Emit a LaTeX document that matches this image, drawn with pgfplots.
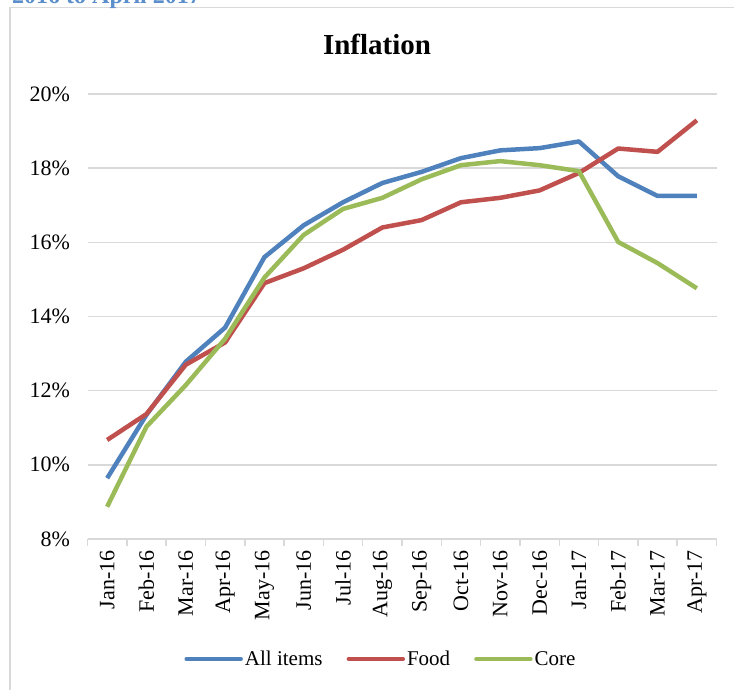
\documentclass[border=0pt]{standalone}
\usepackage{pgfplots}
\pgfplotsset{compat=1.18}
\usepackage{pgfplotstable}
\usepackage{fontspec}
\setmainfont{Liberation Serif}
\definecolor{cblue}{HTML}{4F81BD}
\definecolor{cred}{HTML}{C0504D}
\definecolor{cgreen}{HTML}{9BBB59}
\definecolor{cgrid}{HTML}{D9D9D9}
\definecolor{ctop}{HTML}{5B8FCB}
\pgfplotstableread{
x all food core
0 9.64 10.67 8.87
1 11.35 11.37 11.03
2 12.78 12.70 12.15
3 13.70 13.30 13.40
4 15.60 14.90 15.05
5 16.46 15.30 16.20
6 17.08 15.80 16.90
7 17.60 16.40 17.20
8 17.90 16.60 17.70
9 18.27 17.08 18.08
10 18.48 17.20 18.19
11 18.54 17.40 18.08
12 18.72 17.87 17.92
13 17.78 18.53 16.01
14 17.25 18.44 15.44
15 17.25 19.29 14.76
}\datatable
\begin{document}
\begin{tikzpicture}[x=1pt,y=1pt]
\path[use as bounding box] (0,0) rectangle (734,690);
\draw[cgrid, line width=1.5pt] (10,-20) rectangle (760,682.5);
\node[anchor=base west, inner sep=0pt, text=ctop, font=\fontsize{24}{28}\selectfont\bfseries] at (12,686) {2016 to April 2017};
\node[anchor=base, inner sep=0pt, font=\fontsize{29}{34}\selectfont\bfseries] at (377,635) {Inflation};
\begin{axis}[
  at={(87.5pt,151pt)}, anchor=south west,
  scale only axis, width=629pt, height=445pt,
  xmin=-0.5, xmax=15.5, ymin=8, ymax=20,
  axis x line*=bottom, axis y line*=left,
  y axis line style={draw=none},
  x axis line style={draw=cgrid, line width=1.5pt},
  xtick={0,...,15},
  xticklabels={Jan-16,Feb-16,Mar-16,Apr-16,May-16,Jun-16,Jul-16,Aug-16,Sep-16,Oct-16,Nov-16,Dec-16,Jan-17,Feb-17,Mar-17,Apr-17},
  minor xtick={-0.5,0.5,...,15.5},
  major tick length=0pt, minor tick length=7pt, tick align=outside,
  minor tick style={draw=cgrid, line width=1.5pt},
  ytick={8,10,...,20},
  yticklabel={\pgfmathprintnumber{\tick}\%},
  /pgf/number format/assume math mode=true,
  ymajorgrids=true,
  major grid style={draw=cgrid, line width=1.5pt},
  tick label style={font=\fontsize{22}{26}\selectfont},
  xticklabel style={rotate=90, anchor=east, xshift=-8pt},
  yticklabel style={xshift=-14pt},
  legend style={draw=none, at={(0.4666,-0.2697)}, anchor=center, legend columns=3,
    font=\fontsize{21}{25}\selectfont, /tikz/every even column/.append style={column sep=22pt}},
  legend image code/.code={\draw[#1, line width=4.5pt, line cap=round] (0pt,0pt) -- (54pt,0pt);},
  every axis plot/.append style={line width=4.5pt, line join=round, no markers},
  clip=false,
]
\addplot[cblue] table[x=x,y=all] {\datatable};
\addlegendentry{All items}
\addplot[cred] table[x=x,y=food] {\datatable};
\addlegendentry{Food}
\addplot[cgreen] table[x=x,y=core] {\datatable};
\addlegendentry{Core}
\end{axis}
\end{tikzpicture}
\end{document}
